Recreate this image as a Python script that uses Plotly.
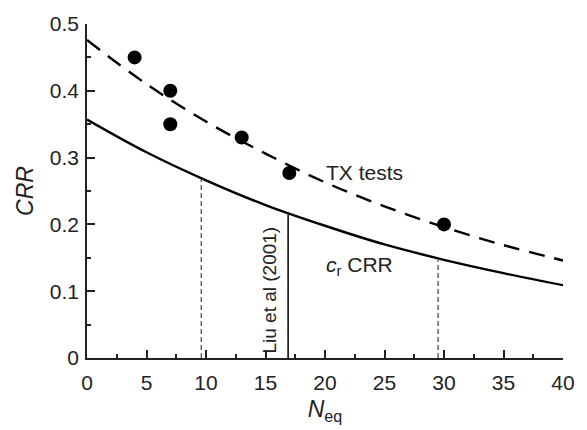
import plotly.graph_objects as go

# Data
n_curve = [0, 5, 10, 15, 20, 25, 30, 35, 40]
crr_tx = [0.476, 0.410, 0.354, 0.306, 0.263, 0.227, 0.196, 0.169, 0.146]
crr_cr = [0.357, 0.308, 0.266, 0.229, 0.198, 0.170, 0.147, 0.127, 0.109]

n_pts = [4, 7, 7, 13, 17, 30]
crr_pts = [0.45, 0.40, 0.35, 0.33, 0.277, 0.20]

dash_x = [9.6, 29.5]
dash_top = [0.268, 0.147]
liu_x = 16.9
liu_top = 0.215

FONT = "Liberation Sans, Arial, sans-serif"

fig = go.Figure()

fig.add_trace(go.Scatter(x=n_curve, y=crr_tx, mode="lines", line_shape="spline",
                         line=dict(color="black", width=2.4, dash="16px,10px"), showlegend=False))
fig.add_trace(go.Scatter(x=n_curve, y=crr_cr, mode="lines", line_shape="spline",
                         line=dict(color="black", width=2.4), showlegend=False))
for xv, top in zip(dash_x, dash_top):
    fig.add_trace(go.Scatter(x=[xv, xv], y=[0, top], mode="lines",
                             line=dict(color="#555555", width=1.3, dash="5px,3px"), showlegend=False))
fig.add_trace(go.Scatter(x=[liu_x, liu_x], y=[0, liu_top], mode="lines",
                         line=dict(color="black", width=1.5), showlegend=False))
fig.add_trace(go.Scatter(x=n_pts, y=crr_pts, mode="markers",
                         marker=dict(color="black", size=14), showlegend=False))

fig.add_annotation(x=23.3, y=0.278, text="TX tests", showarrow=False,
                   font=dict(family=FONT, size=21, color="#222"))
fig.add_annotation(x=22.9, y=0.138, text="<i>c</i><sub>r</sub> CRR", showarrow=False,
                   font=dict(family=FONT, size=21, color="#222"))
fig.add_annotation(x=15.3, y=0.003, text="Liu et al (2001)", showarrow=False, textangle=-90,
                   yanchor="bottom", font=dict(family=FONT, size=19, color="#222"))

axis_common = dict(showline=True, linecolor="#222", linewidth=1.5, ticks="inside",
                   ticklen=8, tickwidth=1.5, tickcolor="#222", showgrid=False, zeroline=False,
                   tickfont=dict(family=FONT, size=21, color="#222"), mirror=False)

fig.update_xaxes(range=[0, 40], dtick=5, tick0=0,
                 minor=dict(ticks="inside", dtick=2.5, ticklen=4, tickcolor="#222", tickwidth=1.5),
                 title=dict(text="<i>N</i><sub>eq</sub>", font=dict(family=FONT, size=23, color="#222"),
                            standoff=8),
                 ticklabelstandoff=5, **axis_common)
fig.update_yaxes(range=[0, 0.5], dtick=0.1, tick0=0,
                 minor=dict(ticks="inside", dtick=0.05, ticklen=4, tickcolor="#222", tickwidth=1.5),
                 title=dict(text="<i>CRR</i>", font=dict(family=FONT, size=23, color="#222"),
                            standoff=10),
                 ticklabelstandoff=2, **axis_common)

fig.update_layout(width=587, height=430, margin=dict(l=87, r=20, t=22, b=65),
                  plot_bgcolor="white", paper_bgcolor="white")

fig.write_html("out.html")
